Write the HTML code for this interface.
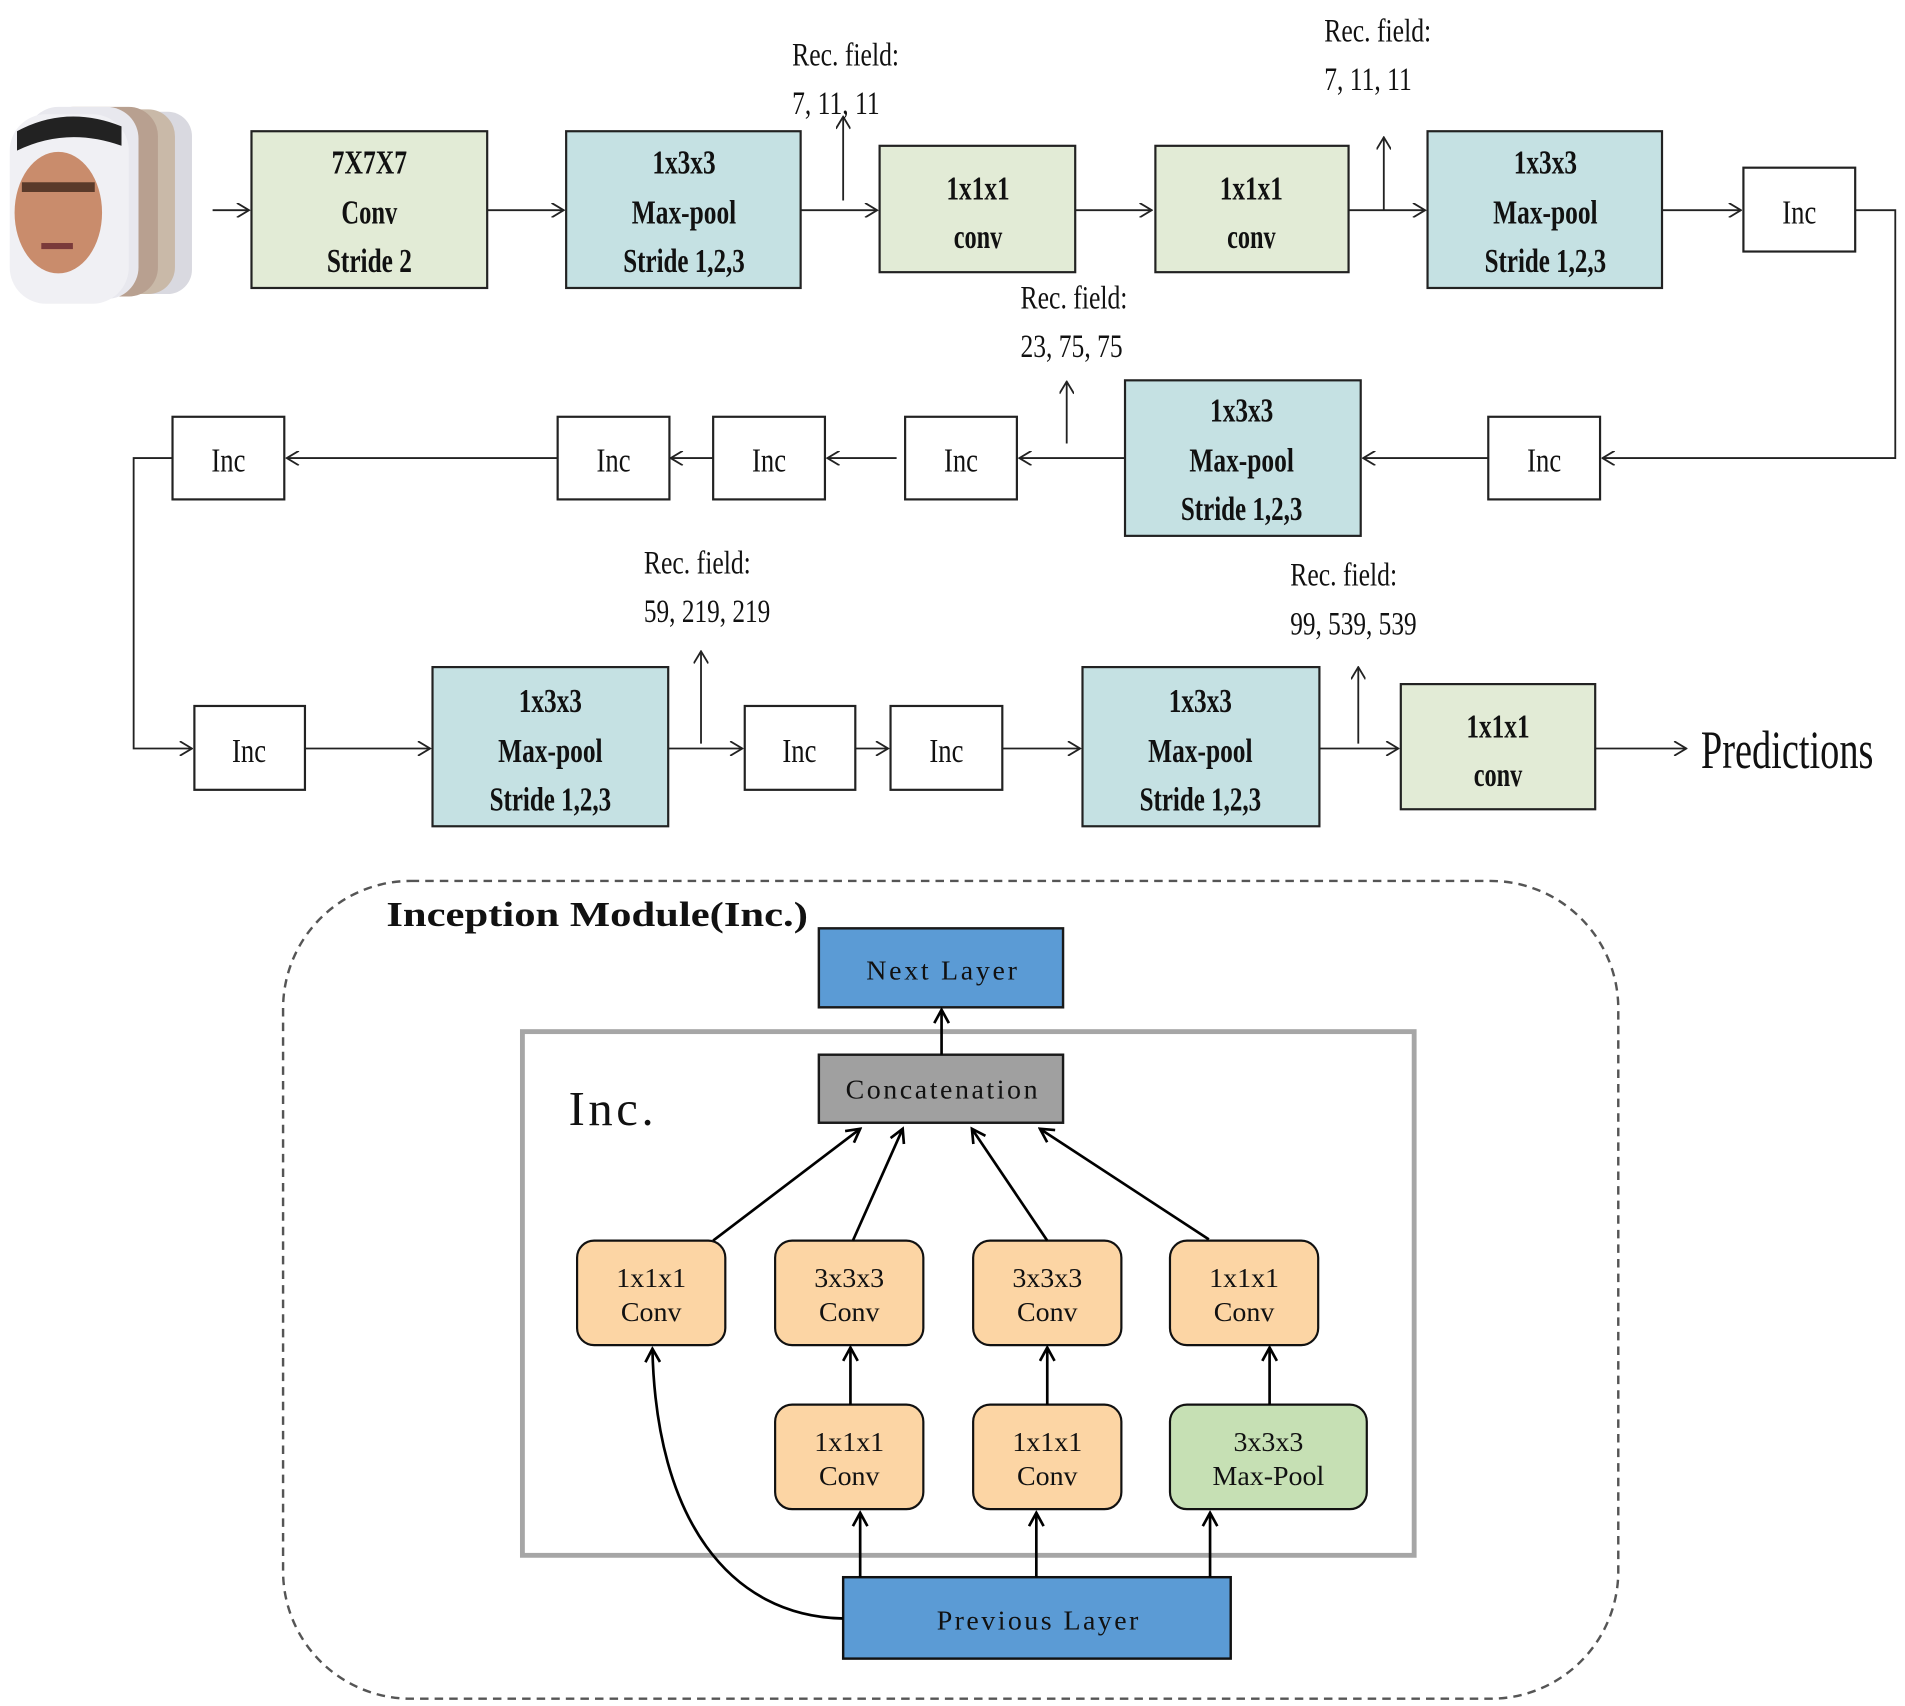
<!DOCTYPE html>
<html><head><meta charset="utf-8"><style>html,body{margin:0;padding:0;background:#fff}svg{display:block}</style></head>
<body>
<svg width="1905" height="1706" viewBox="0 0 1568 1404" preserveAspectRatio="none" xmlns="http://www.w3.org/2000/svg">
<defs>
<marker id="a" viewBox="0 0 12 12" refX="11" refY="6" markerWidth="12" markerHeight="12" markerUnits="userSpaceOnUse" orient="auto"><polyline points="1,0 11,6 1,12" fill="none" stroke="#222" stroke-width="1.5"/></marker>
<marker id="b" viewBox="0 0 14 14" refX="12" refY="7" markerWidth="14" markerHeight="14" markerUnits="userSpaceOnUse" orient="auto"><polyline points="1,1 12,7 1,13" fill="none" stroke="#000" stroke-width="2.2"/></marker>
</defs>
<g font-family="Liberation Serif, serif" fill="#111">
<g>
<rect x="60" y="92" width="98" height="150" rx="20" fill="#d9d9e0"/>
<rect x="48" y="90" width="96" height="152" rx="22" fill="#c9b9a8"/>
<rect x="36" y="88" width="94" height="156" rx="24" fill="#b8a090"/>
<rect x="22" y="88" width="92" height="158" rx="26" fill="#e8e8ee"/>
<rect x="8" y="94" width="98" height="156" rx="30" fill="#f0f0f4"/>
<path d="M14 108 Q55 86 100 104 L100 120 Q55 104 14 124Z" fill="#222"/>
<ellipse cx="48" cy="175" rx="36" ry="50" fill="#c98c6c"/>
<rect x="18" y="150" width="60" height="8" fill="#5a3a2a"/>
<rect x="34" y="200" width="26" height="5" fill="#7a3a3a"/>
</g>
<g stroke="#222" stroke-width="1.5" fill="none" marker-end="url(#a)">
<line x1="175" y1="173" x2="205" y2="173"/>
<line x1="401" y1="173" x2="464" y2="173"/>
<line x1="659" y1="173" x2="722" y2="173"/>
<line x1="694" y1="165" x2="694" y2="96"/>
<line x1="885" y1="173" x2="948" y2="173"/>
<line x1="1110" y1="173" x2="1173" y2="173"/>
<line x1="1139" y1="173" x2="1139" y2="113"/>
<line x1="1368" y1="173" x2="1433" y2="173"/>
<polyline points="1527,173 1560,173 1560,377 1319,377"/>
<line x1="1225" y1="377" x2="1122" y2="377"/>
<line x1="926" y1="377" x2="839" y2="377"/>
<line x1="878" y1="365" x2="878" y2="314"/>
<line x1="738" y1="377" x2="681" y2="377"/>
<line x1="587" y1="377" x2="552" y2="377"/>
<line x1="459" y1="377" x2="236" y2="377"/>
<polyline points="142,377 110,377 110,616 158,616"/>
<line x1="251" y1="616" x2="354" y2="616"/>
<line x1="550" y1="616" x2="611" y2="616"/>
<line x1="577" y1="612" x2="577" y2="536"/>
<line x1="704" y1="616" x2="731" y2="616"/>
<line x1="825" y1="616" x2="889" y2="616"/>
<line x1="1086" y1="616" x2="1151" y2="616"/>
<line x1="1118" y1="612" x2="1118" y2="549"/>
<line x1="1313" y1="616" x2="1388" y2="616"/>
</g>
<g stroke="#222" stroke-width="1.8">
<rect x="207" y="108" width="194" height="129" fill="#e2ebd6"/>
<rect x="466" y="108" width="193" height="129" fill="#c5e1e3"/>
<rect x="724" y="120" width="161" height="104" fill="#e2ebd6"/>
<rect x="951" y="120" width="159" height="104" fill="#e2ebd6"/>
<rect x="1175" y="108" width="193" height="129" fill="#c5e1e3"/>
<rect x="1435" y="138" width="92" height="69" fill="#fff"/>
<rect x="1225" y="343" width="92" height="68" fill="#fff"/>
<rect x="926" y="313" width="194" height="128" fill="#c5e1e3"/>
<rect x="745" y="343" width="92" height="68" fill="#fff"/>
<rect x="587" y="343" width="92" height="68" fill="#fff"/>
<rect x="459" y="343" width="92" height="68" fill="#fff"/>
<rect x="142" y="343" width="92" height="68" fill="#fff"/>
<rect x="160" y="581" width="91" height="69" fill="#fff"/>
<rect x="356" y="549" width="194" height="131" fill="#c5e1e3"/>
<rect x="613" y="581" width="91" height="69" fill="#fff"/>
<rect x="733" y="581" width="92" height="69" fill="#fff"/>
<rect x="891" y="549" width="195" height="131" fill="#c5e1e3"/>
<rect x="1153" y="563" width="160" height="103" fill="#e2ebd6"/>
</g>
<g font-size="28" text-anchor="middle" font-weight="bold">
<g transform="translate(304,0)"><text x="0" y="143" textLength="62" lengthAdjust="spacingAndGlyphs">7X7X7</text><text x="0" y="184" textLength="46" lengthAdjust="spacingAndGlyphs">Conv</text><text x="0" y="224" textLength="70" lengthAdjust="spacingAndGlyphs">Stride 2</text></g>
<g id="mp"><text x="563" y="143" textLength="52" lengthAdjust="spacingAndGlyphs">1x3x3</text><text x="563" y="184" textLength="86" lengthAdjust="spacingAndGlyphs">Max-pool</text><text x="563" y="224" textLength="100" lengthAdjust="spacingAndGlyphs">Stride 1,2,3</text></g>
<use href="#mp" x="709"/>
<use href="#mp" x="459" y="204"/>
<use href="#mp" x="-110" y="443"/>
<use href="#mp" x="425" y="443"/>
<text x="805" y="164" textLength="52" lengthAdjust="spacingAndGlyphs">1x1x1</text><text x="805" y="204" textLength="40" lengthAdjust="spacingAndGlyphs">conv</text>
<text x="1030" y="164" textLength="52" lengthAdjust="spacingAndGlyphs">1x1x1</text><text x="1030" y="204" textLength="40" lengthAdjust="spacingAndGlyphs">conv</text>
<text x="1233" y="607" textLength="52" lengthAdjust="spacingAndGlyphs">1x1x1</text><text x="1233" y="647" textLength="40" lengthAdjust="spacingAndGlyphs">conv</text>
</g>
<g font-size="28" text-anchor="middle">
<text x="1481" y="184" textLength="28" lengthAdjust="spacingAndGlyphs">Inc</text>
<text x="1271" y="388" textLength="28" lengthAdjust="spacingAndGlyphs">Inc</text>
<text x="791" y="388" textLength="28" lengthAdjust="spacingAndGlyphs">Inc</text>
<text x="633" y="388" textLength="28" lengthAdjust="spacingAndGlyphs">Inc</text>
<text x="505" y="388" textLength="28" lengthAdjust="spacingAndGlyphs">Inc</text>
<text x="188" y="388" textLength="28" lengthAdjust="spacingAndGlyphs">Inc</text>
<text x="205" y="627" textLength="28" lengthAdjust="spacingAndGlyphs">Inc</text>
<text x="658" y="627" textLength="28" lengthAdjust="spacingAndGlyphs">Inc</text>
<text x="779" y="627" textLength="28" lengthAdjust="spacingAndGlyphs">Inc</text>
</g>
<g font-size="27">
<text x="652" y="54" textLength="88" lengthAdjust="spacingAndGlyphs">Rec. field:</text><text x="652" y="94" textLength="72" lengthAdjust="spacingAndGlyphs">7, 11, 11</text>
<text x="1090" y="34" textLength="88" lengthAdjust="spacingAndGlyphs">Rec. field:</text><text x="1090" y="74" textLength="72" lengthAdjust="spacingAndGlyphs">7, 11, 11</text>
<text x="840" y="254" textLength="88" lengthAdjust="spacingAndGlyphs">Rec. field:</text><text x="840" y="294" textLength="84" lengthAdjust="spacingAndGlyphs">23, 75, 75</text>
<text x="530" y="472" textLength="88" lengthAdjust="spacingAndGlyphs">Rec. field:</text><text x="530" y="512" textLength="104" lengthAdjust="spacingAndGlyphs">59, 219, 219</text>
<text x="1062" y="482" textLength="88" lengthAdjust="spacingAndGlyphs">Rec. field:</text><text x="1062" y="522" textLength="104" lengthAdjust="spacingAndGlyphs">99, 539, 539</text>
</g>
<text x="1400" y="632" font-size="44" textLength="142" lengthAdjust="spacingAndGlyphs">Predictions</text>

<rect x="233" y="725" width="1099" height="673" rx="105" fill="none" stroke="#555" stroke-width="2" stroke-dasharray="7,5"/>
<text x="318" y="762" font-size="29" font-weight="bold" textLength="347" lengthAdjust="spacingAndGlyphs">Inception Module(Inc.)</text>
<rect x="430" y="849" width="734" height="431" fill="none" stroke="#a6a6a6" stroke-width="4"/>
<rect x="674" y="764" width="201" height="65" fill="#5b9bd5" stroke="#1a1a1a" stroke-width="2"/>
<text x="775" y="806" font-size="23" text-anchor="middle" textLength="124" lengthAdjust="spacing">Next Layer</text>
<rect x="674" y="868" width="201" height="56" fill="#a0a0a0" stroke="#1a1a1a" stroke-width="2"/>
<text x="775" y="904" font-size="23" text-anchor="middle" textLength="158" lengthAdjust="spacing">Concatenation</text>
<text x="468" y="926" font-size="40" textLength="70" lengthAdjust="spacing">Inc.</text>
<g stroke="#111" stroke-width="1.8">
<rect x="475" y="1021" width="122" height="86" rx="14" fill="#fcd5a4"/>
<rect x="638" y="1021" width="122" height="86" rx="14" fill="#fcd5a4"/>
<rect x="801" y="1021" width="122" height="86" rx="14" fill="#fcd5a4"/>
<rect x="963" y="1021" width="122" height="86" rx="14" fill="#fcd5a4"/>
<rect x="638" y="1156" width="122" height="86" rx="14" fill="#fcd5a4"/>
<rect x="801" y="1156" width="122" height="86" rx="14" fill="#fcd5a4"/>
<rect x="963" y="1156" width="162" height="86" rx="14" fill="#c6e0b4"/>
<rect x="694" y="1298" width="319" height="67" fill="#5b9bd5" stroke-width="2"/>
</g>
<g font-size="23" text-anchor="middle">
<text x="536" y="1059">1x1x1</text><text x="536" y="1087">Conv</text>
<text x="699" y="1059">3x3x3</text><text x="699" y="1087">Conv</text>
<text x="862" y="1059">3x3x3</text><text x="862" y="1087">Conv</text>
<text x="1024" y="1059">1x1x1</text><text x="1024" y="1087">Conv</text>
<text x="699" y="1194">1x1x1</text><text x="699" y="1222">Conv</text>
<text x="862" y="1194">1x1x1</text><text x="862" y="1222">Conv</text>
<text x="1044" y="1194">3x3x3</text><text x="1044" y="1222">Max-Pool</text>
<text x="854" y="1341" textLength="166" lengthAdjust="spacing">Previous Layer</text>
</g>
<g stroke="#000" stroke-width="2.2" fill="none" marker-end="url(#b)">
<line x1="775" y1="868" x2="775" y2="831"/>
<line x1="587" y1="1021" x2="708" y2="929"/>
<line x1="702" y1="1021" x2="743" y2="929"/>
<line x1="862" y1="1021" x2="800" y2="929"/>
<line x1="995" y1="1020" x2="856" y2="929"/>
<line x1="700" y1="1156" x2="700" y2="1109"/>
<line x1="862" y1="1156" x2="862" y2="1109"/>
<line x1="1045" y1="1156" x2="1045" y2="1109"/>
<line x1="708" y1="1298" x2="708" y2="1245"/>
<line x1="853" y1="1298" x2="853" y2="1245"/>
<line x1="996" y1="1298" x2="996" y2="1245"/>
<path d="M694,1332 C600,1330 540,1250 537,1110"/>
</g>
</g>
</svg>
</body></html>
